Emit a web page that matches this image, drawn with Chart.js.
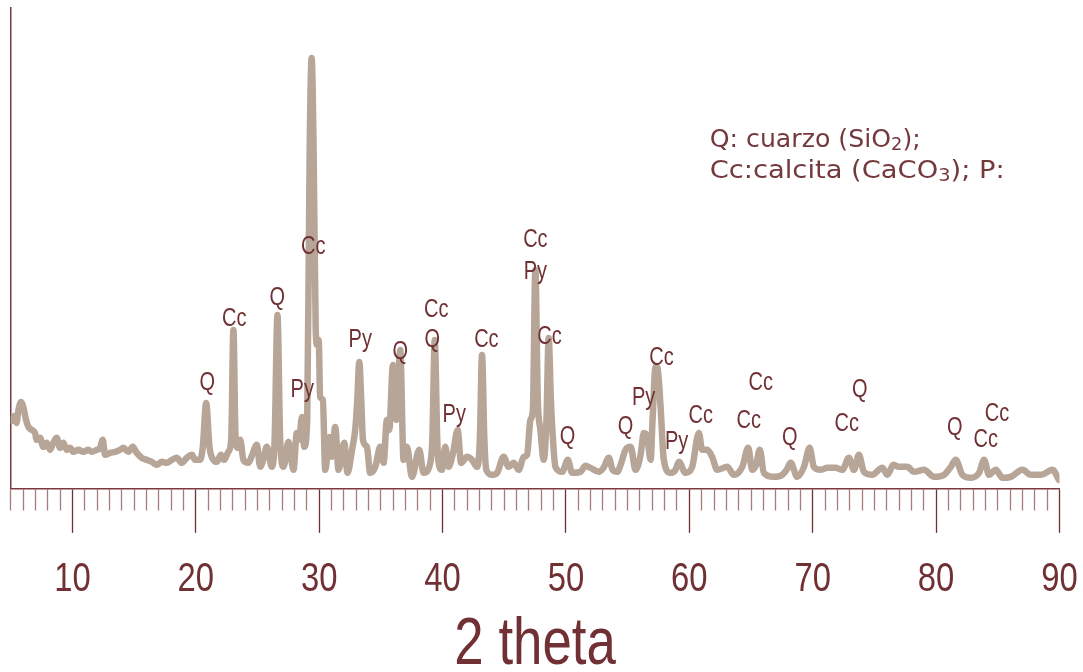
<!DOCTYPE html>
<html>
<head>
<meta charset="utf-8">
<script src="https://cdn.jsdelivr.net/npm/chart.js@4.4.1/dist/chart.umd.min.js"></script>
<style>
  html, body { margin: 0; padding: 0; background: #ffffff; }
  #wrap { width: 1083px; height: 672px; position: relative; }
</style>
</head>
<body>
<div id="wrap"><canvas id="xrd"></canvas></div>
<script>
// Diffractogram: 2 theta (degrees) and intensity (arbitrary units)
const twoTheta = [
  5.06, 5.27, 5.47, 5.63, 5.84, 6.04, 6.24, 6.44, 6.70, 6.97, 7.11, 7.38, 7.64, 7.92, 8.19, 8.45, 8.73, 9.00, 9.27, 9.54,
  9.81, 10.08, 10.48, 10.89, 11.29, 11.57, 11.97, 12.24, 12.46, 12.65, 13.05, 13.46, 13.86, 14.13, 14.54, 14.89, 15.22, 15.62, 16.03, 16.44,
  16.84, 17.25, 17.65, 18.06, 18.46, 18.87, 19.27, 19.68, 19.95, 20.35, 20.57, 20.84, 21.11, 21.43, 21.71, 22.03, 22.30, 22.63, 22.87, 23.05,
  23.23, 23.44, 23.60, 23.86, 24.27, 24.57, 24.95, 25.22, 25.46, 25.76, 26.17, 26.39, 26.62, 26.84, 27.11, 27.51, 27.92, 28.19, 28.38, 28.60,
  28.79, 29.03, 29.23, 29.39, 29.55, 29.72, 29.84, 29.96, 30.08, 30.30, 30.49, 30.84, 31.03, 31.30, 31.57, 32.03, 32.30, 32.66, 32.92, 33.09,
  33.25, 33.41, 33.55, 33.87, 34.14, 34.55, 34.95, 35.22, 35.49, 35.68, 35.98, 36.25, 36.57, 36.84, 37.11, 37.52, 38.11, 38.46, 39.01, 39.17,
  39.37, 39.57, 39.68, 39.95, 40.22, 40.49, 40.85, 41.22, 41.50, 41.99, 42.39, 42.80, 43.02, 43.20, 43.39, 43.55, 44.01, 44.42, 44.95, 45.36,
  45.76, 46.17, 46.57, 46.85, 47.12, 47.32, 47.52, 47.72, 47.93, 48.20, 48.42, 48.60, 48.78, 48.90, 49.15, 49.69, 50.15, 50.50, 51.18, 51.58,
  51.99, 52.66, 53.04, 53.48, 53.78, 54.16, 54.43, 54.83, 55.24, 55.64, 56.05, 56.31, 56.59, 56.86, 57.02, 57.26, 57.42, 57.67, 57.93, 58.47,
  58.88, 59.15, 59.69, 60.23, 60.77, 61.04, 61.45, 61.85, 62.26, 63.07, 63.61, 64.29, 64.77, 65.10, 65.41, 65.71, 66.04, 66.85, 67.53, 67.88,
  68.21, 68.75, 69.29, 69.75, 70.09, 70.64, 71.18, 71.85, 72.40, 72.93, 73.34, 73.74, 74.15, 74.83, 75.64, 76.05, 76.53, 76.99, 77.67, 78.21,
  79.02, 79.83, 80.64, 81.19, 81.59, 82.13, 82.81, 83.48, 83.89, 84.29, 84.84, 85.38, 86.05, 87.00, 87.68, 88.49, 89.44, 89.95
];
const intensity = [
  68, 73, 66, 79, 87, 81, 69, 62, 59, 56, 49, 51, 42, 46, 39, 46, 51, 41, 46, 39,
  41, 37, 39, 37, 39, 37, 39, 41, 49, 34, 36, 37, 39, 41, 37, 42, 36, 31, 29, 27,
  24, 27, 26, 29, 31, 26, 31, 34, 29, 29, 42, 86, 42, 29, 27, 34, 29, 37, 49, 159,
  49, 41, 49, 29, 26, 34, 44, 22, 29, 42, 22, 49, 174, 49, 22, 47, 19, 56, 49, 72,
  42, 69, 339, 431, 339, 159, 144, 149, 92, 89, 19, 52, 32, 62, 19, 46, 16, 39, 59, 89,
  127, 89, 49, 42, 16, 22, 42, 26, 69, 59, 124, 69, 139, 29, 42, 12, 39, 16, 26, 49,
  149, 49, 26, 19, 42, 22, 36, 59, 26, 32, 29, 22, 49, 134, 49, 19, 14, 16, 32, 22,
  26, 19, 32, 34, 69, 79, 219, 89, 59, 29, 69, 151, 89, 59, 22, 17, 29, 16, 17, 23,
  21, 17, 21, 31, 19, 17, 24, 39, 42, 19, 34, 56, 52, 29, 69, 122, 121, 82, 29, 16,
  19, 27, 16, 22, 56, 39, 39, 32, 19, 22, 14, 22, 41, 19, 24, 39, 16, 12, 14, 19,
  26, 12, 22, 41, 22, 19, 21, 21, 19, 31, 19, 34, 17, 14, 21, 14, 24, 22, 22, 17,
  19, 12, 14, 22, 29, 14, 11, 16, 29, 14, 19, 11, 12, 19, 14, 14, 19, 9
];

// Axis ticks: a mark every degree, numbered every ten
const minorStep = 1;
const majorTicks = [10, 20, 30, 40, 50, 60, 70, 80, 90];

// Phase identification labels placed over the peaks
const peakLabelText  = ['Q', 'Cc', 'Q', 'Py', 'Cc', 'Py', 'Q', 'Cc', 'Q', 'Py', 'Cc', 'Cc', 'Py', 'Cc',
                        'Q', 'Q', 'Py', 'Cc', 'Py', 'Cc', 'Cc', 'Cc', 'Q', 'Cc', 'Q', 'Q', 'Cc', 'Cc'];
const peakLabelTheta = [20.93, 23.11, 26.60, 28.63, 29.52, 33.33, 36.57, 39.49, 39.16, 40.95, 43.55, 47.52, 47.52, 48.66,
                        50.12, 54.83, 56.29, 57.75, 58.97, 60.92, 64.81, 65.79, 68.14, 72.76, 73.82, 81.52, 84.03, 84.93];
const peakLabelLevel = [106, 170, 191, 99, 242, 149, 137, 179, 149, 74, 149, 249, 217, 152,
                        52, 62, 91, 131, 47, 73, 68, 106, 51, 65, 99, 61, 49, 75];

// Key to the phase abbreviations (text, is-subscript)
const keyLines = [
  [['Q: cuarzo (SiO', false], ['2', true], [');', false]],
  [['Cc:calcita (CaCO', false], ['3', true], ['); P:', false]]
];

const maroon = '#703034';
const traceColor = '#b7a698';
const NARROW = '"Liberation Sans Narrow", "Liberation Sans", Arial, sans-serif';

// If the narrow face is not installed, squeeze the regular face horizontally instead.
const condense = (() => {
  const c = document.createElement('canvas').getContext('2d');
  c.font = '40px "Liberation Sans", Arial, sans-serif';
  const regular = c.measureText('10 theta').width;
  c.font = '40px ' + NARROW;
  const narrow = c.measureText('10 theta').width;
  return Math.abs(regular - narrow) < 0.5 ? 0.8 : 1;
})();

const narrowText = {
  id: 'narrowText',
  beforeInit(chart) {
    const ctx = chart.ctx;
    const base = CanvasRenderingContext2D.prototype.fillText;
    ctx.fillText = function (text, x, y, maxWidth) {
      if (condense !== 1 && this.font.indexOf('Liberation Sans Narrow') !== -1) {
        this.save();
        this.translate(x, y);
        this.scale(condense, 1);
        if (maxWidth === undefined) base.call(this, text, 0, 0);
        else base.call(this, text, 0, 0, maxWidth / condense);
        this.restore();
      } else if (maxWidth === undefined) {
        base.call(this, text, x, y);
      } else {
        base.call(this, text, x, y, maxWidth);
      }
    };
  }
};

const peakLabels = {
  id: 'peakLabels',
  afterDatasetsDraw(chart) {
    const {ctx, scales: {x, y}} = chart;
    ctx.save();
    ctx.fillStyle = maroon;
    ctx.font = '25px ' + NARROW;
    ctx.textAlign = 'center';
    ctx.textBaseline = 'middle';
    peakLabelText.forEach((t, i) => {
      ctx.fillText(t, x.getPixelForValue(peakLabelTheta[i]), y.getPixelForValue(peakLabelLevel[i]));
    });
    ctx.restore();
  }
};

const phaseKey = {
  id: 'phaseKey',
  afterDraw(chart) {
    const {ctx, chartArea} = chart;
    const left = chartArea.left + 699;
    const rows = [{base: chartArea.top + 139, width: 211}, {base: chartArea.top + 170, width: 295}];
    const fontFor = sub => sub ? '17px "DejaVu Sans", sans-serif' : '24px "DejaVu Sans", sans-serif';
    ctx.save();
    ctx.fillStyle = '#74393d';
    ctx.textBaseline = 'alphabetic';
    ctx.textAlign = 'left';
    keyLines.forEach((segments, li) => {
      let natural = 0;
      segments.forEach(([txt, sub]) => { ctx.font = fontFor(sub); natural += ctx.measureText(txt).width; });
      const sx = rows[li].width / natural;
      ctx.save();
      ctx.translate(left, rows[li].base);
      ctx.scale(sx, 1);
      let cx = 0;
      segments.forEach(([txt, sub]) => {
        ctx.font = fontFor(sub);
        ctx.fillText(txt, cx, sub ? 3 : 0);
        cx += ctx.measureText(txt).width;
      });
      ctx.restore();
    });
    ctx.restore();
  }
};

new Chart(document.getElementById('xrd'), {
  type: 'line',
  data: {
    datasets: [{
      data: twoTheta.map((t, i) => ({x: t, y: intensity[i]})),
      borderColor: traceColor,
      borderWidth: 6.5,
      pointRadius: 0,
      cubicInterpolationMode: 'monotone',
      borderJoinStyle: 'round',
      borderCapStyle: 'round',
      fill: false
    }]
  },
  options: {
    responsive: true,
    maintainAspectRatio: false,
    animation: false,
    events: [],
    layout: { padding: { left: 10.7, right: 23.5, top: 8, bottom: 2 } },
    plugins: { legend: { display: false }, tooltip: { enabled: false } },
    scales: {
      x: {
        type: 'linear',
        min: 5,
        max: 90,
        afterFit: s => { s.paddingLeft = 0; s.paddingRight = 0; },
        border: { color: '#7a3a40', width: 1.5 },
        grid: {
          drawOnChartArea: false,
          drawTicks: true,
          tickLength: 44,
          tickWidth: 1.3,
          tickColor: c => majorTicks.includes(c.tick.value) ? '#6d2f34' : '#a87c7e',
          tickBorderDash: c => majorTicks.includes(c.tick.value) ? [] : [21, 200]
        },
        ticks: {
          stepSize: minorStep,
          autoSkip: false,
          maxRotation: 0,
          padding: 22,
          color: maroon,
          font: { family: NARROW, size: 41, lineHeight: 1.2 },
          callback: v => majorTicks.includes(v) ? String(v) : ''
        },
        title: {
          display: true,
          text: '2 theta',
          color: maroon,
          padding: { top: 0, bottom: 5 },
          font: { family: NARROW, size: 66, lineHeight: 0.59 }
        }
      },
      y: {
        type: 'linear',
        min: 0,
        max: 481,
        afterFit: s => { s.width = 0; },
        border: { color: '#7a3a40', width: 1.5 },
        grid: { drawOnChartArea: false, drawTicks: false },
        ticks: { display: false }
      }
    }
  },
  plugins: [narrowText, peakLabels, phaseKey]
});
</script>
</body>
</html>
